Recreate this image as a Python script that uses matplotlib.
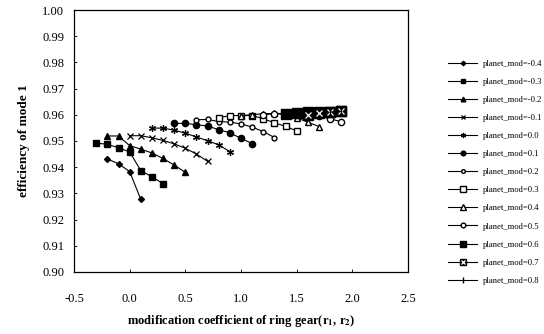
import matplotlib
matplotlib.use("Agg")
import matplotlib.pyplot as plt
from matplotlib.legend_handler import HandlerTuple

plt.rcParams['font.family'] = ['Liberation Serif', 'DejaVu Serif']
plt.rcParams['mathtext.fontset'] = 'stix'

labels = ["planet_mod=-0.4", "planet_mod=-0.3", "planet_mod=-0.2", "planet_mod=-0.1",
          "planet_mod=0.0", "planet_mod=0.1", "planet_mod=0.2", "planet_mod=0.3",
          "planet_mod=0.4", "planet_mod=0.5", "planet_mod=0.6", "planet_mod=0.7",
          "planet_mod=0.8"]

x_m04 = [-0.2, -0.1, 0.0, 0.1]
y_m04 = [0.9431, 0.9413, 0.9383, 0.9277]
x_m03 = [-0.3, -0.2, -0.1, 0.0, 0.1, 0.2, 0.3]
y_m03 = [0.9492, 0.9487, 0.9474, 0.9458, 0.9387, 0.9363, 0.9337]
x_m02 = [-0.2, -0.1, 0.0, 0.1, 0.2, 0.3, 0.4, 0.5]
y_m02 = [0.9519, 0.9519, 0.9482, 0.9469, 0.9454, 0.9433, 0.9408, 0.9380]
x_m01 = [0.0, 0.1, 0.2, 0.3, 0.4, 0.5, 0.6, 0.7]
y_m01 = [0.9520, 0.9520, 0.9512, 0.9502, 0.9489, 0.9472, 0.9450, 0.9422]
x_00 = [0.2, 0.3, 0.4, 0.5, 0.6, 0.7, 0.8, 0.9]
y_00 = [0.9549, 0.9549, 0.9541, 0.9530, 0.9515, 0.9501, 0.9485, 0.9459]
x_01 = [0.4, 0.5, 0.6, 0.7, 0.8, 0.9, 1.0, 1.1]
y_01 = [0.9567, 0.9567, 0.9562, 0.9557, 0.9543, 0.9531, 0.9510, 0.9490]
x_02 = [0.6, 0.7, 0.8, 0.9, 1.0, 1.1, 1.2, 1.3]
y_02 = [0.9581, 0.9582, 0.9574, 0.9572, 0.9565, 0.9553, 0.9536, 0.9513]
x_03 = [0.8, 0.9, 1.0, 1.1, 1.2, 1.3, 1.4, 1.5]
y_03 = [0.9588, 0.9597, 0.9597, 0.9597, 0.9585, 0.9569, 0.9556, 0.9538]
x_04 = [1.0, 1.1, 1.2, 1.3, 1.4, 1.5, 1.6, 1.7]
y_04 = [0.9597, 0.9600, 0.9604, 0.9605, 0.9600, 0.9588, 0.9572, 0.9555]
x_05 = [1.2, 1.3, 1.4, 1.5, 1.6, 1.7, 1.8, 1.9]
y_05 = [0.9600, 0.9604, 0.9606, 0.9606, 0.9603, 0.9596, 0.9585, 0.9573]
x_06 = [1.4, 1.5, 1.6, 1.7, 1.8, 1.9]
y_06 = [0.9604, 0.9607, 0.9610, 0.9611, 0.9612, 0.9613]
x_07 = [1.6, 1.7, 1.8, 1.9]
y_07 = [0.9598, 0.9608, 0.9611, 0.9613]
x_08 = [1.8, 1.9]
y_08 = [0.9610, 0.9613]

xticks = [-0.5, 0.0, 0.5, 1.0, 1.5, 2.0, 2.5]
yticks = [0.90, 0.91, 0.92, 0.93, 0.94, 0.95, 0.96, 0.97, 0.98, 0.99, 1.00]

fig = plt.figure(figsize=(5.44, 3.34), dpi=100)
ax = fig.add_axes([0.136, 0.186, 0.614, 0.784])

lw = 0.8
k = 'black'
series = [
    (x_m04, y_m04, dict(marker='D', ms=3.0, mfc=k)),
    (x_m03, y_m03, dict(marker='s', ms=4.5, mfc=k)),
    (x_m02, y_m02, dict(marker='^', ms=4.5, mfc=k)),
    (x_m01, y_m01, dict(marker='x', ms=4.5, mew=0.9)),
    (x_00, y_00, dict(marker=(6, 2, 0), ms=5, mew=0.9)),
    (x_01, y_01, dict(marker='o', ms=4.5, mfc=k)),
    (x_02, y_02, dict(marker='o', ms=3.5, mfc='white')),
    (x_03, y_03, dict(marker='s', ms=5, mfc='white')),
    (x_04, y_04, dict(marker='^', ms=5, mfc='white')),
    (x_05, y_05, dict(marker='o', ms=4.5, mfc='white')),
    (x_06, y_06, dict(marker='s', ms=6.5, mfc=k)),
]
handles = []
for xs, ys, st in series:
    h, = ax.plot(xs, ys, color=k, lw=lw, mec=k, **st)
    handles.append(h)

h7a, = ax.plot(x_07, y_07, color=k, lw=lw, marker='s', ms=6.5, mfc=k, mec=k)
h7b, = ax.plot(x_07, y_07, ls='none', marker='x', ms=4, mec='white', mew=0.9)
handles.append((h7a, h7b))
h8, = ax.plot(x_08, y_08, color=k, lw=lw, marker='|', ms=5, mec=k)
handles.append(h8)

ax.set_xlim(-0.5, 2.5)
ax.set_ylim(0.90, 1.00)
ax.set_xticks(xticks)
ax.set_xticklabels([f"{v:.1f}" for v in xticks])
ax.set_yticks(yticks)
ax.set_yticklabels([f"{v:.2f}" for v in yticks])
ax.tick_params(axis='both', labelsize=9, direction='in', length=2, width=0.6)
ax.tick_params(axis='x', pad=15)
ax.tick_params(axis='y', pad=7)
for s in ax.spines.values():
    s.set_linewidth(0.9)

ax.set_ylabel("efficiency of mode 1", fontsize=9.5, fontweight='bold', labelpad=9)
ax.set_xlabel(r"modification coefficient of ring gear(r$_\mathbf{1}$, r$_\mathbf{2}$)",
              fontsize=9, fontweight='bold', labelpad=6)

fig.legend(handles, labels, loc='upper left', bbox_to_anchor=(0.818, 0.832),
           frameon=False, fontsize=6.2, labelspacing=1.17, handlelength=3.3,
           handletextpad=0.7, borderaxespad=0, markerscale=0.75,
           handler_map={tuple: HandlerTuple(ndivide=1)})

fig.savefig("out.png", dpi=100)
